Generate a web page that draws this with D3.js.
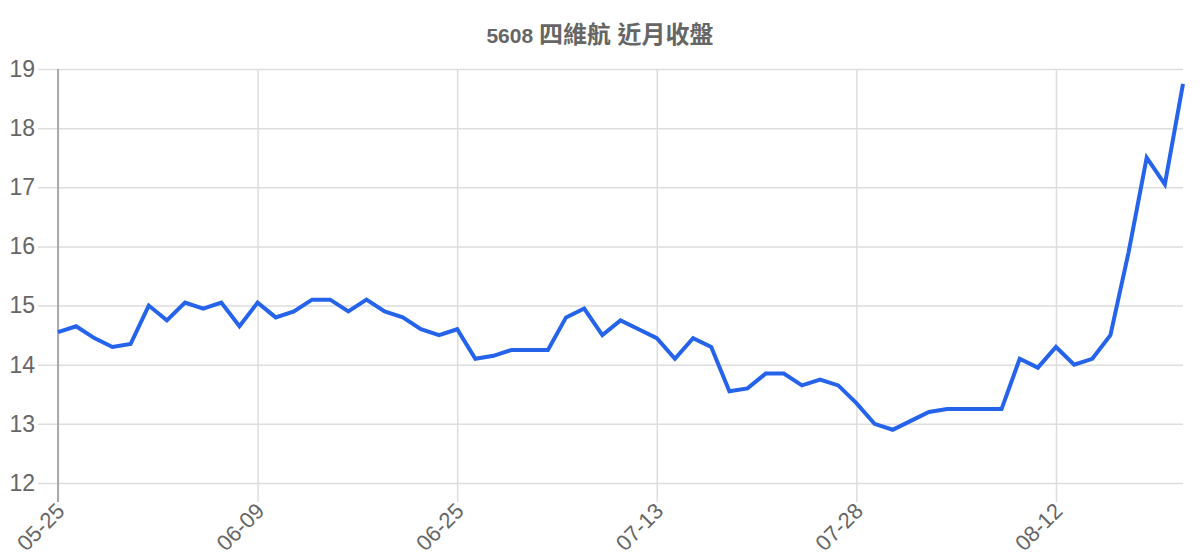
<!DOCTYPE html>
<html>
  <head>
    <meta charset="utf-8">
    <title>5608 四維航 近月收盤</title>
    <style>
      body { margin: 0; background: #fff; }
      .chart-area text { font-family: "Liberation Sans", Arial, "Noto Sans CJK TC", sans-serif; }
    </style>
  </head>

  <body>
    <div class="chart-area"></div>

    <script src="https://d3js.org/d3.v7.min.js"></script>
    <script>
        // trading days shown on the chart
        var dates = [
            "05-25", "05-26", "05-27", "05-28", "05-31", "06-01", "06-02", "06-03", "06-04", "06-07", "06-08",
            "06-09", "06-10", "06-11", "06-15", "06-16", "06-17", "06-18", "06-21", "06-22", "06-23", "06-24",
            "06-25", "06-28", "06-29", "06-30", "07-01", "07-02", "07-05", "07-06", "07-07", "07-08", "07-12",
            "07-13", "07-14", "07-15", "07-16", "07-19", "07-20", "07-21", "07-22", "07-23", "07-26", "07-27",
            "07-28", "07-29", "07-30", "08-02", "08-03", "08-04", "08-05", "08-06", "08-09", "08-10", "08-11",
            "08-12", "08-13", "08-16", "08-17", "08-18", "08-19", "08-20", "08-23"
        ];

        // closing prices
        var closes = [
            14.55, 14.65, 14.45, 14.3, 14.35, 15.0, 14.75, 15.05, 14.95, 15.05, 14.65,
            15.05, 14.8, 14.9, 15.1, 15.1, 14.9, 15.1, 14.9, 14.8, 14.6, 14.5,
            14.6, 14.1, 14.15, 14.25, 14.25, 14.25, 14.8, 14.95, 14.5, 14.75, 14.6,
            14.45, 14.1, 14.45, 14.3, 13.55, 13.6, 13.85, 13.85, 13.65, 13.75, 13.65,
            13.35, 13.0, 12.9, 13.05, 13.2, 13.25, 13.25, 13.25, 13.25, 14.1, 13.95,
            14.3, 14.0, 14.1, 14.5, 15.9, 17.5, 17.05, 18.75
        ];

        var xTickLabels = ["05-25", "06-09", "06-25", "07-13", "07-28", "08-12"];
        var yTicks = [12, 13, 14, 15, 16, 17, 18, 19];

        var W = 1200, H = 560;
        var plot = {left: 58, right: 1183, top: 69, bottom: 483};

        var svg = d3.select(".chart-area")
            .append("svg")
                .attr("width", W)
                .attr("height", H);

        var x = d3.scalePoint()
            .domain(dates)
            .range([plot.left, plot.right]);

        var y = d3.scaleLinear()
            .domain([12, 19])
            .range([plot.bottom, plot.top]);

        // horizontal grid + y labels
        var yAxis = svg.append("g")
            .attr("transform", "translate(" + plot.left + ",0)")
            .call(d3.axisLeft(y)
                .tickValues(yTicks)
                .tickSize(-(plot.right - plot.left))
                .tickPadding(23)
                .tickFormat(d3.format("d")));
        yAxis.select(".domain").remove();
        yAxis.selectAll("line")
            .attr("x1", -20)
            .attr("stroke", "#dddddd")
            .attr("stroke-width", 1.5);
        yAxis.selectAll("text")
            .attr("fill", "#666666")
            .style("font-size", "23px");

        // vertical grid + rotated date labels
        var xAxis = svg.append("g")
            .attr("transform", "translate(0," + plot.top + ")")
            .call(d3.axisBottom(x)
                .tickValues(xTickLabels)
                .tickSize(502 - plot.top));
        xAxis.select(".domain").remove();
        xAxis.selectAll("line")
            .attr("stroke", "#dddddd")
            .attr("stroke-width", 1.5);
        xAxis.selectAll("text")
            .attr("fill", "#666666")
            .style("font-size", "22px")
            .attr("text-anchor", "end")
            .attr("x", 0)
            .attr("y", 0)
            .attr("dy", "0.35em")
            .attr("transform", "translate(2," + (507 - plot.top) + ") rotate(-45)");

        // left axis line
        svg.append("line")
            .attr("x1", plot.left).attr("x2", plot.left)
            .attr("y1", plot.top).attr("y2", 502)
            .attr("stroke", "#aaaaaa")
            .attr("stroke-width", 2);

        // the price line
        var line = d3.line()
            .x(function(d, i) { return x(dates[i]); })
            .y(function(d) { return y(d); });

        svg.append("path")
            .datum(closes)
            .attr("fill", "none")
            .attr("stroke", "#2563eb")
            .attr("stroke-width", 4)
            .attr("stroke-linejoin", "miter")
            .attr("d", line);

        // title (digits a bit smaller than the CJK part, like the original)
        var title = svg.append("text")
            .attr("x", 600)
            .attr("y", 43)
            .attr("text-anchor", "middle")
            .attr("fill", "#666666")
            .style("font-weight", "bold");
        title.append("tspan")
            .style("font-size", "21px")
            .text("5608 ");
        title.append("tspan")
            .style("font-size", "24px")
            .text("四維航 近月收盤");
    </script>
  </body>
</html>
